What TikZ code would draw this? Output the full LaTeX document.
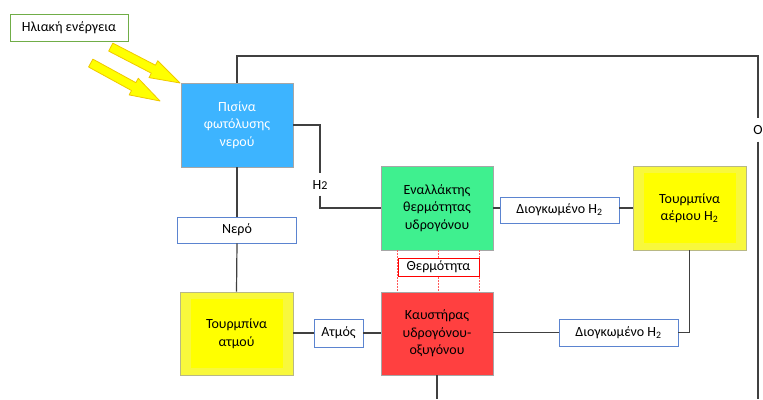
\documentclass[tikz,border=0pt]{standalone}
\usepackage{fontspec}
\setmainfont{Carlito}
\usetikzlibrary{calc}
\definecolor{linegray}{HTML}{404040}
\definecolor{boxgray}{HTML}{A6A6A6}
\definecolor{poolblue}{HTML}{3DB4FF}
\definecolor{heatgreen}{HTML}{3FF08F}
\definecolor{burnred}{HTML}{FF4040}
\definecolor{youter}{HTML}{F8F83C}
\definecolor{yinner}{HTML}{FFFF00}
\definecolor{labelblue}{HTML}{5B84D0}
\definecolor{sungreen}{HTML}{70AD47}
\definecolor{arrowedge}{HTML}{F0C800}
\definecolor{heatline}{HTML}{FF5A5A}
\begin{document}
\begin{tikzpicture}[x=1pt,y=-1pt,
  txt/.style={font=\fontsize{14}{17.5}\selectfont, align=center, inner sep=0pt},
  conn/.style={draw=linegray, line width=1.2pt},
  procbox/.style={txt, draw=boxgray, line width=0.8pt, minimum width=112pt, minimum height=84pt},
  turbine/.style={procbox, fill=youter, draw=boxgray!80!yellow,
    path picture={\fill[yinner] ($(path picture bounding box.north west)+(10.5,6.5)$) rectangle ($(path picture bounding box.south east)+(-10.5,-7)$);}},
  lbl/.style={txt, draw=labelblue, line width=0.9pt, fill=white, minimum height=26pt},
  sunarrow/.style={fill=yinner, draw=arrowedge, line width=0.8pt, line join=round},
  heatdot/.style={draw=heatline, line width=0.8pt, dash pattern=on 1.5pt off 1.5pt},
  free/.style={txt, inner xsep=1pt}
]
\useasboundingbox (0,0) rectangle (763,399);

% sun arrows
\begin{scope}[shift={(180,83)},rotate=-27.4]
  \path[sunarrow] (0,0) -- (-30,-9.5) -- (-30,-4.5) -- (-78,-4.5) -- (-78,4.5) -- (-30,4.5) -- (-30,9.5) -- cycle;
\end{scope}
\begin{scope}[shift={(160,101)},rotate=-28.7]
  \path[sunarrow] (0,0) -- (-30,-9.5) -- (-30,-4.5) -- (-79,-4.5) -- (-79,4.5) -- (-30,4.5) -- (-30,9.5) -- cycle;
\end{scope}

% nodes
\node[txt, draw=sungreen, line width=1pt, minimum width=118pt, minimum height=27pt] (sun) at (69,27.5) {Ηλιακή ενέργεια};
\node[procbox, fill=poolblue, text=white] (pool) at (237,125) {Πισίνα\\φωτόλυσης\\νερού};
\node[lbl, minimum width=119pt] (water) at (237,230) {Νερό};
\node[turbine, minimum width=113pt, minimum height=83pt] (steamt) at (236.5,333.5) {Τουρμπίνα\\ατμού};
\node[lbl, minimum width=49pt, minimum height=28pt] (steam) at (338.5,333) {Ατμός};
\node[procbox, fill=burnred, minimum height=83pt] (burner) at (437,333.5) {Καυστήρας\\υδρογόνου-\\οξυγόνου};
\node[lbl, minimum width=119pt, minimum height=27pt] (exp2) at (618.5,332.5) {Διογκωμένο H\textsubscript{2}};
\node[procbox, fill=heatgreen] (hex) at (437,208) {Εναλλάκτης\\θερμότητας\\υδρογόνου};
\node[lbl, minimum width=119pt] (exp1) at (559.5,210) {Διογκωμένο H\textsubscript{2}};
\node[turbine, minimum width=113pt] (gast) at (689.5,208) {Τουρμπίνα\\αέριου H\textsubscript{2}};
\node[txt, draw=red, line width=0.8pt, fill=white, minimum width=81pt, minimum height=18pt] (heat) at (438.5,267) {Θερμότητα};
\node[free, text height=9pt, text depth=0pt, inner ysep=6.5pt] (htwo) at (320,184.5) {H{\fontsize{12}{12}\selectfont 2}};
\node[free, text height=9pt, text depth=0pt, inner ysep=7pt, inner xsep=0pt] (otwo) at (758,130) {O\rlap{\textsubscript{2}}};

\coordinate (topright) at (758,56);
\coordinate (rightend) at (758,399);
\coordinate (burnerend) at (437,399);

% connectors
\draw[conn] (pool.north) |- (topright) -- (otwo.north);
\draw[conn] (otwo.south) -- (rightend);
\draw[conn] (pool.east) -| (htwo.north);
\draw[conn] (htwo.south) |- (hex.west);
\draw[conn] (pool.south) -- (water.north);
\draw[conn] (water.south) -- (steamt.north);
\draw[conn] (steamt.east |- steam.west) -- (steam.west);
\draw[conn] (steam.east) -- (burner.west |- steam.east);
\draw[conn] (burner.south) -- (burnerend);
\draw[conn] (burner.east |- exp2.west) -- (exp2.west);
\draw[conn] (exp2.east) -| (gast.south);
\draw[conn] (hex.east) -- (hex.east -| exp1.west);
\draw[conn] (exp1.east |- gast.west) -- (gast.west);

% heat links
\draw[heatdot] (heat.west |- hex.south) -- (heat.west |- burner.north);
\draw[heatdot] (heat.center |- hex.south) -- (heat.center |- burner.north);
\draw[heatdot] (heat.east |- hex.south) -- (heat.east |- burner.north);
\node[txt, draw=red, line width=0.8pt, fill=white, minimum width=81pt, minimum height=18pt] (heatlabel) at (heat) {Θερμότητα};
\end{tikzpicture}
\end{document}
